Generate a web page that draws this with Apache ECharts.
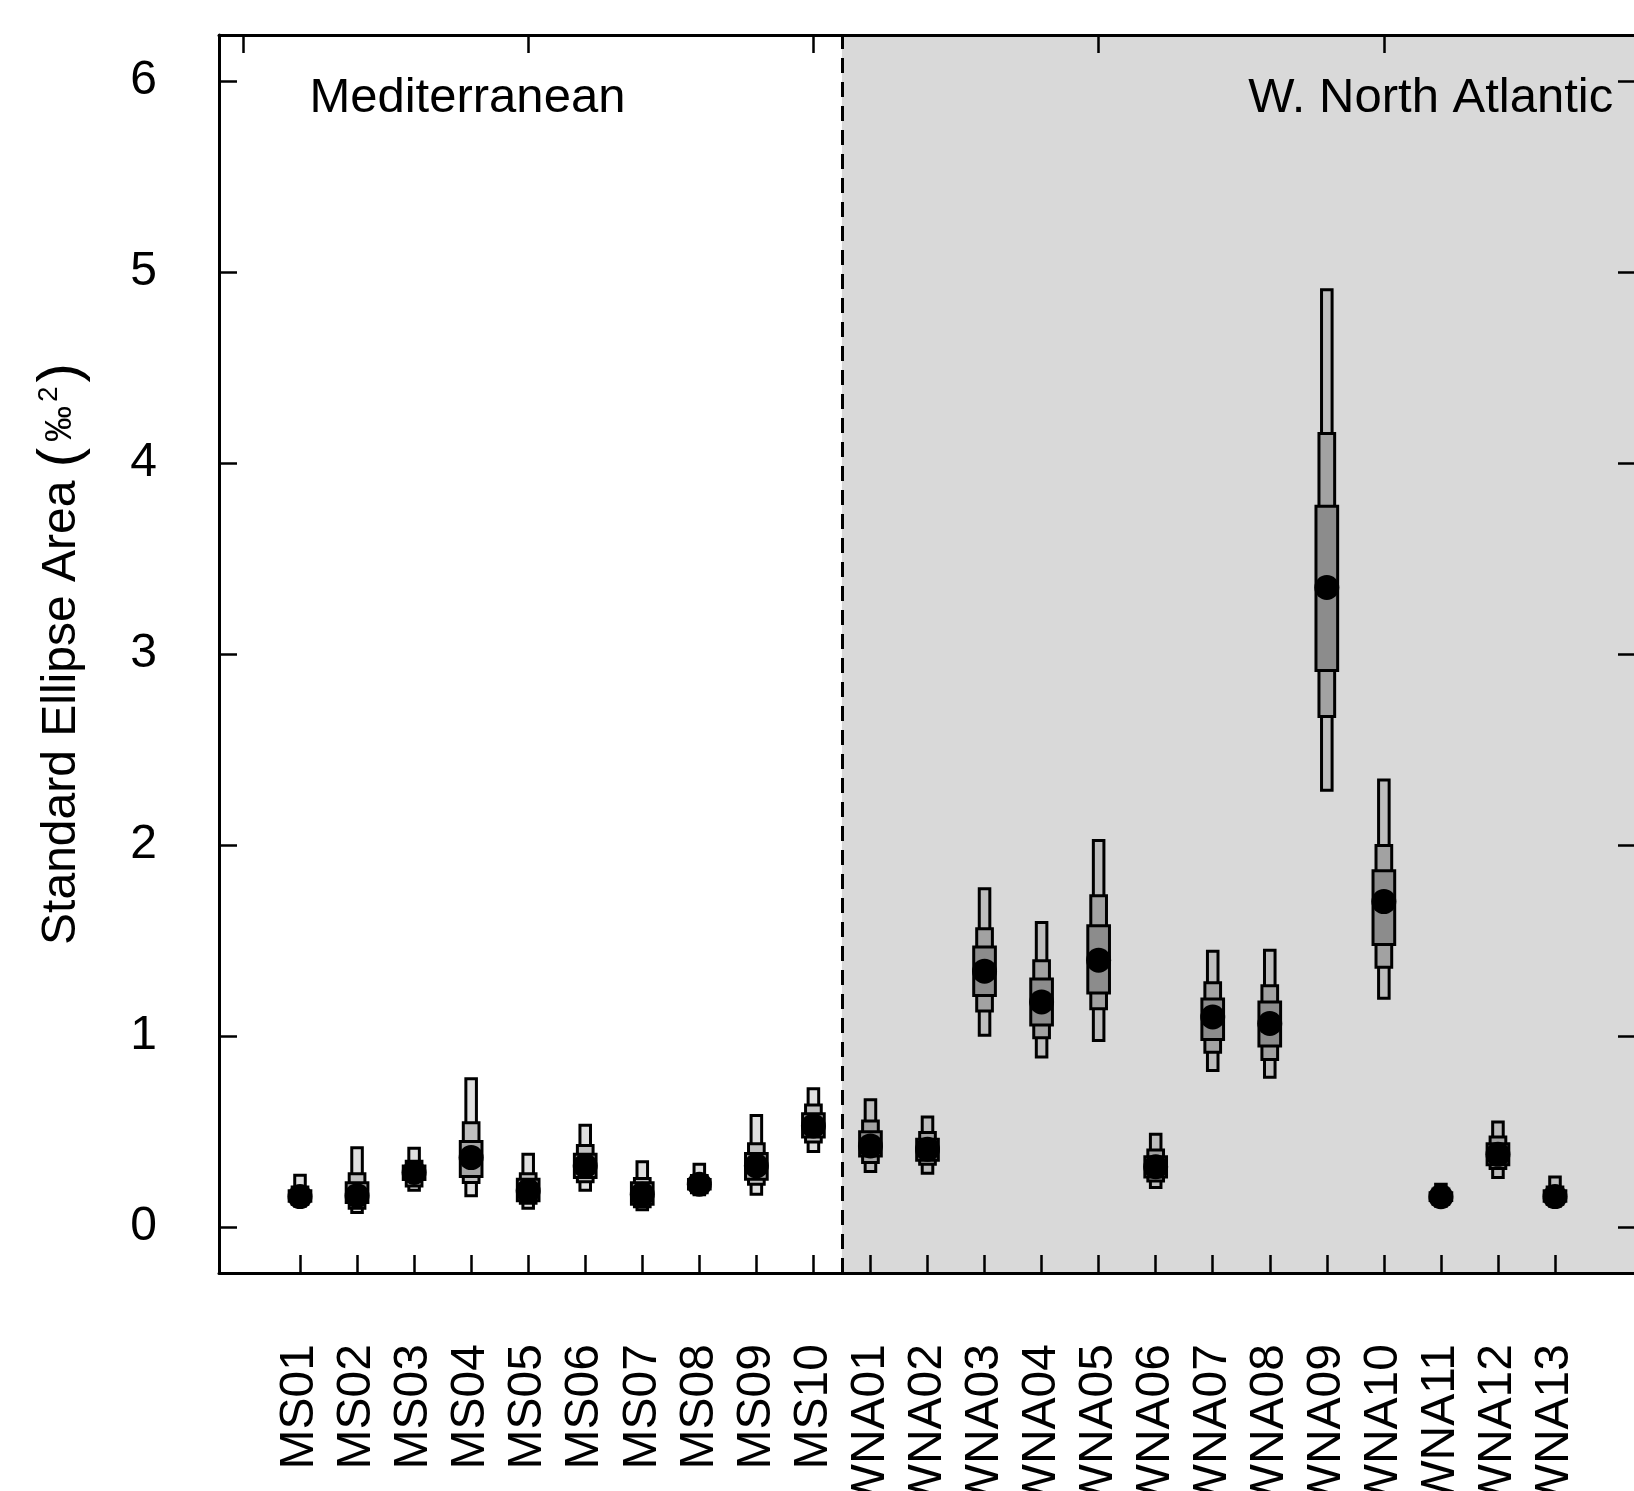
<!DOCTYPE html>
<html>
<head>
<meta charset="utf-8">
<script src="https://cdn.jsdelivr.net/npm/echarts@6/dist/echarts.min.js"></script>
<style>
  html, body { margin: 0; padding: 0; background: #ffffff; }
  #chart { width: 1634px; height: 1491px; }
</style>
</head>
<body>
<div id="chart"></div>
<script>
// ---- data ----
var categories = ['MS01','MS02','MS03','MS04','MS05','MS06','MS07','MS08','MS09','MS10',
  'WNA01','WNA02','WNA03','WNA04','WNA05','WNA06','WNA07','WNA08','WNA09','WNA10','WNA11','WNA12','WNA13'];
var mode = [0.16,0.165,0.286,0.364,0.19,0.321,0.172,0.225,0.321,0.53,
  0.425,0.408,1.34,1.179,1.397,0.316,1.10,1.066,3.348,1.704,0.159,0.381,0.16];
var lo95 = [0.11,0.077,0.193,0.164,0.099,0.193,0.091,0.17,0.172,0.396,
  0.291,0.282,1.005,0.89,0.977,0.207,0.82,0.784,2.287,1.198,0.11,0.26,0.11];
var hi95 = [0.272,0.416,0.413,0.777,0.381,0.533,0.342,0.329,0.585,0.725,
  0.667,0.577,1.771,1.594,2.024,0.486,1.444,1.449,4.906,2.341,0.225,0.551,0.263];
var lo75 = [0.12,0.099,0.216,0.234,0.125,0.237,0.107,0.18,0.225,0.446,
  0.338,0.329,1.131,0.991,1.143,0.242,0.916,0.878,2.673,1.361,0.12,0.307,0.12];
var hi75 = [0.21,0.28,0.345,0.547,0.28,0.428,0.254,0.27,0.437,0.639,
  0.556,0.495,1.562,1.395,1.735,0.404,1.279,1.264,4.154,1.997,0.20,0.472,0.21];
var lo50 = [0.135,0.129,0.25,0.265,0.138,0.26,0.12,0.2,0.251,0.472,
  0.373,0.35,1.212,1.058,1.226,0.263,0.982,0.948,2.913,1.479,0.14,0.326,0.135];
var hi50 = [0.19,0.233,0.32,0.448,0.251,0.381,0.233,0.25,0.385,0.594,
  0.499,0.46,1.466,1.299,1.578,0.369,1.194,1.179,3.773,1.865,0.18,0.437,0.19];
var yTicks = [0,1,2,3,4,5,6];
var topTicks = [0,5,10,15,20];
var regionSplit = 10.5;
var regionNames = ['Mediterranean','W. North Atlantic'];

// ---- build ----
var xPos = categories.map(function (c, i) { return i + 1; });
var boxData = categories.map(function (c, i) {
  return [i + 1, lo95[i], hi95[i], lo75[i], hi75[i], lo50[i], hi50[i], mode[i]];
});
var XMIN = -0.42, XMAX = 24.42, YMIN = -0.24, YMAX = 6.24;
var FONT = '"Liberation Sans", Arial, sans-serif';

function renderBox(params, api) {
  var x = api.value(0);
  function rect(lo, hi, w, fill) {
    var p1 = api.coord([x, hi]);
    var p2 = api.coord([x, lo]);
    var wp = api.size([w, 0])[0];
    return { type: 'rect',
      shape: { x: p1[0] - wp / 2, y: p1[1], width: wp, height: p2[1] - p1[1] },
      style: { fill: fill, stroke: '#000', lineWidth: 3 } };
  }
  var c = api.coord([x, api.value(7)]);
  return { type: 'group', children: [
    rect(api.value(1), api.value(2), 0.185, '#e0e0e0'),
    rect(api.value(3), api.value(4), 0.275, '#bfbfbf'),
    rect(api.value(5), api.value(6), 0.38, '#a5a5a5'),
    { type: 'circle', shape: { cx: c[0], cy: c[1], r: 12.5 }, style: { fill: '#000' } }
  ] };
}

function renderShade(params, api) {
  var cs = params.coordSys;
  var x0 = api.coord([api.value(0), 0])[0];
  return { type: 'rect',
    shape: { x: x0, y: cs.y, width: cs.x + cs.width - x0, height: cs.height },
    style: { fill: 'rgba(0,0,0,0.149)' } };
}

var regionLabel = { show: true, fontSize: 49, color: '#000', fontFamily: FONT, distance: 0,
  textBorderWidth: 0, opacity: 1, verticalAlign: 'middle' };

var chart = echarts.init(document.getElementById('chart'), null, { renderer: 'canvas' });
chart.setOption({
  animation: false,
  backgroundColor: '#ffffff',
  textStyle: { fontFamily: FONT },
  grid: { left: 219, top: 35, width: 1417, height: 1238, containLabel: false, outerBoundsMode: 'none' },
  xAxis: [{
    type: 'value', position: 'bottom', min: XMIN, max: XMAX,
    axisLine: { show: true, onZero: false, lineStyle: { color: '#000', width: 3 } },
    axisTick: { show: true, inside: true, length: 18, customValues: xPos, lineStyle: { color: '#000', width: 2.5 } },
    axisLabel: { show: true, rotate: 90, margin: 71, customValues: xPos, fontSize: 48, color: '#000', fontFamily: FONT,
      hideOverlap: false,
      formatter: function (v) { return categories[Math.round(v) - 1] || ''; } },
    splitLine: { show: false }
  }, {
    type: 'value', position: 'top', min: XMIN, max: XMAX,
    axisLine: { show: true, onZero: false, lineStyle: { color: '#000', width: 3 } },
    axisTick: { show: true, inside: true, length: 18, customValues: topTicks, lineStyle: { color: '#000', width: 2.5 } },
    axisLabel: { show: false },
    splitLine: { show: false }
  }],
  yAxis: [{
    type: 'value', position: 'left', min: YMIN, max: YMAX,
    axisLine: { show: true, onZero: false, lineStyle: { color: '#000', width: 3 } },
    axisTick: { show: true, inside: true, length: 18, customValues: yTicks, lineStyle: { color: '#000', width: 2.5 } },
    axisLabel: { show: true, margin: 62, customValues: yTicks, fontSize: 48, color: '#000', fontFamily: FONT },
    splitLine: { show: false },
    name: '{a|Standard Ellipse Area }{p|(}{m|‰}{s|2}{p|)}',
    nameLocation: 'middle', nameRotate: 90, nameGap: 133,
    nameTextStyle: {
      color: '#000', fontFamily: FONT,
      rich: {
        a: { fontSize: 48, color: '#000', fontFamily: FONT, verticalAlign: 'bottom' },
        p: { fontSize: 58, color: '#000', fontFamily: FONT, verticalAlign: 'bottom', padding: [0, 0, -5, 0] },
        m: { fontSize: 36, color: '#000', fontFamily: FONT, verticalAlign: 'bottom', padding: [0, 4, 7, 6] },
        s: { fontSize: 28, color: '#000', fontFamily: FONT, verticalAlign: 'top', padding: [2, 4, 0, 0] }
      }
    }
  }, {
    type: 'value', position: 'right', min: YMIN, max: YMAX,
    axisLine: { show: true, onZero: false, lineStyle: { color: '#000', width: 3 } },
    axisTick: { show: true, inside: true, length: 18, customValues: yTicks, lineStyle: { color: '#000', width: 2.5 } },
    axisLabel: { show: false },
    splitLine: { show: false }
  }],
  series: [{
    type: 'custom', name: 'boxes', z: 2, clip: true,
    xAxisIndex: 0, yAxisIndex: 0,
    renderItem: renderBox,
    encode: { x: 0, y: [1, 2, 3, 4, 5, 6, 7] },
    data: boxData
  }, {
    type: 'custom', name: 'shade', z: 3, clip: true,
    xAxisIndex: 0, yAxisIndex: 0,
    renderItem: renderShade,
    encode: { x: 0, y: 1 },
    data: [[regionSplit, 0]],
    silent: true
  }, {
    type: 'scatter', name: 'regions', z: 5, symbolSize: 0,
    xAxisIndex: 0, yAxisIndex: 0, silent: true,
    itemStyle: { opacity: 1 },
    data: [
      { value: [1.165, 5.91], label: Object.assign({ formatter: regionNames[0], position: 'right' }, regionLabel) },
      { value: [24.02, 5.91], label: Object.assign({ formatter: regionNames[1], position: 'left' }, regionLabel) }
    ],
    markLine: {
      silent: true, symbol: ['none', 'none'], label: { show: false },
      lineStyle: { color: '#000', type: [15, 9], width: 3 },
      data: [{ xAxis: regionSplit }]
    }
  }]
});
</script>
</body>
</html>
